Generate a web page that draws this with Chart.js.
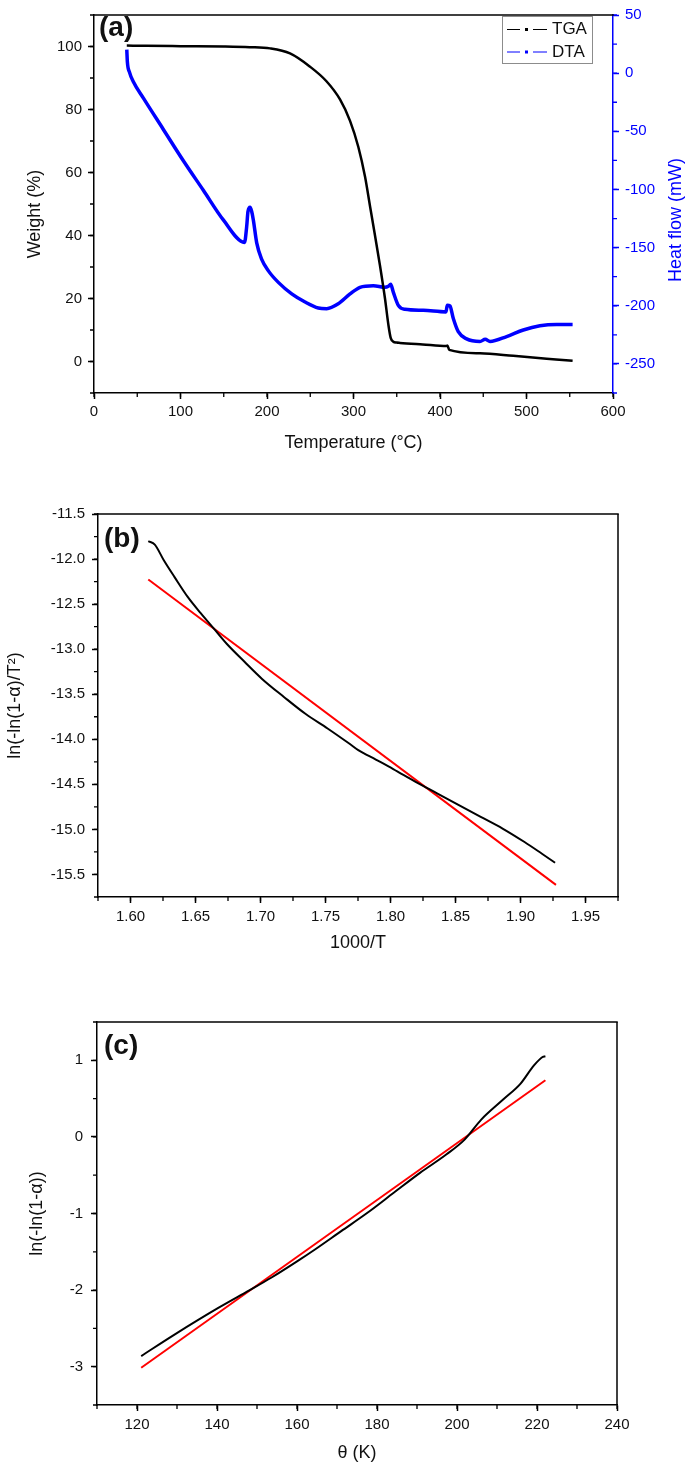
<!DOCTYPE html>
<html><head><meta charset="utf-8">
<script src="https://cdn.jsdelivr.net/npm/chart.js@4.4.1/dist/chart.umd.min.js"></script>
<style>
html,body{margin:0;padding:0;background:#fff;width:685px;height:1465px;overflow:hidden}
canvas{position:absolute;left:0}
</style></head><body>
<canvas id="ca" width="685" height="470" style="top:0px"></canvas>
<canvas id="cb" width="685" height="490" style="top:470px"></canvas>
<canvas id="cc" width="685" height="505" style="top:960px"></canvas>
<script>
// ---------- Panel (a): TGA / DTA ----------
const tgaT = [37.9, 60, 100, 150, 180, 203.5, 226.6, 249.7, 269, 284.4, 296, 305.6, 313.3, 319.1, 324.9, 330.6, 336.4, 340.3, 343, 346, 350, 353.7, 380, 407.7, 408.5, 410.7, 446.2, 484.7, 523.3, 553.3];
const tgaW = [100.3, 100.2, 100.1, 100.0, 99.8, 99.4, 97.8, 93.6, 88.9, 83.2, 76.4, 68.1, 58.7, 49.3, 39.9, 30.5, 20.0, 11.7, 7.5, 6.3, 6.0, 5.9, 5.4, 4.9, 5.1, 3.7, 2.6, 1.8, 0.9, 0.2];
const dtaT = [37.9, 38.6, 40.9, 45.5, 57.1, 80.2, 103.3, 126.4, 149.5, 174, 176.5, 178, 180.4, 182.3, 184.2, 188.1, 193.9, 201.6, 213.1, 228.6, 244, 259.3, 269, 282.4, 296, 307.5, 322.9, 336.4, 340.3, 343, 346, 351.8, 359.5, 380.7, 406.9, 408.4, 411.5, 415.4, 421.1, 430.8, 446.2, 452.3, 457.8, 477, 496.3, 515.5, 534.8, 553.3];
const dtaH = [20.3, 9.5, 1.1, -7.4, -21.5, -48.4, -75.3, -100.7, -126.2, -145.5, -132, -119, -115.4, -119, -126.2, -145.9, -160.1, -170, -179.9, -189.8, -196.8, -201.9, -202.5, -198.3, -189.8, -184.1, -182.7, -184.1, -183.2, -181.5, -188.3, -199.6, -203, -203.9, -205.3, -199.6, -200.2, -211, -222.3, -228.5, -230.7, -228.8, -230.7, -226.5, -220.8, -217.2, -216.1, -216.1];
const aTicksX = [0, 100, 200, 300, 400, 500, 600];
const aTicksW = [0, 20, 40, 60, 80, 100];
const aTicksH = [-250, -200, -150, -100, -50, 0, 50];

// ---------- Panel (b) ----------
const bX = [1.6137, 1.6187, 1.6255, 1.6339, 1.644, 1.654, 1.664, 1.674, 1.6877, 1.7012, 1.718, 1.7348, 1.7516, 1.7685, 1.7752, 1.7887, 1.8021, 1.819, 1.8358, 1.8526, 1.8694, 1.8862, 1.9031, 1.9165, 1.9266];
const bY = [-11.80, -11.84, -12.01, -12.20, -12.42, -12.60, -12.77, -12.94, -13.14, -13.33, -13.53, -13.72, -13.88, -14.05, -14.12, -14.225, -14.33, -14.47, -14.60, -14.73, -14.86, -14.99, -15.14, -15.27, -15.37];
const bFitX = [1.6137, 1.9273];
const bFitY = [-12.226, -15.615];
const bTicksX = [1.60, 1.65, 1.70, 1.75, 1.80, 1.85, 1.90, 1.95];
const bTicksY = [-15.5, -15.0, -14.5, -14.0, -13.5, -13.0, -12.5, -12.0, -11.5];

// ---------- Panel (c) ----------
const cX = [121.05, 129.47, 140.42, 148.07, 153.54, 160.11, 164.49, 171.05, 177.61, 184.18, 190.74, 197.31, 201.9, 206.06, 211.53, 215.9, 219.19, 221.38, 222.1];
const cY = [-2.861, -2.578, -2.230, -2.004, -1.839, -1.622, -1.470, -1.230, -0.991, -0.730, -0.470, -0.230, -0.035, 0.226, 0.487, 0.696, 0.930, 1.043, 1.052];
const cFitX = [121.05, 222.1];
const cFitY = [-3.013, 0.739];
const cTicksX = [120, 140, 160, 180, 200, 220, 240];
const cTicksY = [-3, -2, -1, 0, 1];

const FONT = "'Liberation Sans', Arial, Helvetica, sans-serif";
Chart.defaults.font.family = FONT;
Chart.defaults.color = '#111';

const pts = (xs, ys) => xs.map((x, i) => ({x: x, y: ys[i]}));

function makeScale(o) {
  const color = o.color || '#000';
  return {
    type: 'linear', position: o.pos, min: o.min, max: o.max,
    afterBuildTicks: s => { s.ticks = o.ticks.map(v => ({value: v})); },
    afterFit: s => { if (o.pos === 'bottom') s.height = o.size; else s.width = o.size; },
    ticks: { color: o.labelColor || '#111', font: {size: 15}, padding: o.labelPad,
             autoSkip: false, maxRotation: 0, minRotation: 0,
             callback: v => o.fmt ? o.fmt(v) : String(v) },
    grid: { display: true, drawOnChartArea: false, drawTicks: true, tickLength: 6, tickWidth: 1.5, tickColor: color },
    border: { display: true, color: color, width: 1.5 },
    title: o.title ? { display: true, text: o.title, color: '#111', font: {size: 18},
                      padding: o.pos === 'bottom' ? {bottom: o.titlePad, top: 0} : {top: o.titlePad, bottom: 0} }
                   : { display: false }
  };
}

function minorTicks(spec) {
  return { id: 'minorTicks', afterDraw(chart) {
    const ctx = chart.ctx;
    for (const id in spec) {
      const s = chart.scales[id]; const m = spec[id];
      const n = Math.round((s.max - s.min) / m.step);
      ctx.save(); ctx.strokeStyle = m.color; ctx.lineWidth = 1.3; ctx.beginPath();
      for (let i = 0; i <= n; i++) {
        const p = s.getPixelForValue(s.min + i * m.step);
        if (s.position === 'bottom') { ctx.moveTo(p, s.top); ctx.lineTo(p, s.top + 4); }
        else if (s.position === 'left') { ctx.moveTo(s.right - 4, p); ctx.lineTo(s.right, p); }
        else { ctx.moveTo(s.left, p); ctx.lineTo(s.left + 4, p); }
      }
      ctx.stroke(); ctx.restore();
    }
  }};
}

function frame(topColor, rightColor) {
  return { id: 'frame', afterDraw(chart) {
    const {ctx, chartArea: a} = chart;
    ctx.save(); ctx.lineWidth = 1.5;
    if (topColor) { ctx.strokeStyle = topColor; ctx.beginPath(); ctx.moveTo(a.left, a.top); ctx.lineTo(a.right + 0.75, a.top); ctx.stroke(); }
    if (rightColor) { ctx.strokeStyle = rightColor; ctx.beginPath(); ctx.moveTo(a.right, a.top); ctx.lineTo(a.right, a.bottom); ctx.stroke(); }
    ctx.restore();
  }};
}

function panelLabel(text, dx, dy) {
  return { id: 'panelLabel', afterDraw(chart) {
    const {ctx, chartArea: a} = chart;
    ctx.save(); ctx.fillStyle = '#111'; ctx.font = 'bold 28px ' + FONT;
    ctx.textBaseline = 'middle'; ctx.textAlign = 'left';
    ctx.fillText(text, a.left + dx, a.top + dy);
    ctx.restore();
  }};
}

const legendA = { id: 'legendA', afterDraw(chart) {
  const ctx = chart.ctx; ctx.save();
  ctx.strokeStyle = '#8c8c8c'; ctx.lineWidth = 1; ctx.strokeRect(502.5, 16.5, 90, 47);
  chart.data.datasets.forEach((ds, i) => {
    const y = 29.5 + i * 22.5;
    ctx.strokeStyle = ds.borderColor; ctx.lineWidth = 1;
    ctx.beginPath(); ctx.moveTo(507, y); ctx.lineTo(520, y); ctx.moveTo(533, y); ctx.lineTo(547, y); ctx.stroke();
    ctx.fillStyle = ds.borderColor; ctx.fillRect(525, y - 1.5, 3, 3);
    ctx.fillStyle = '#111'; ctx.font = '17px ' + FONT; ctx.textBaseline = 'middle'; ctx.textAlign = 'left';
    ctx.fillText(ds.label, 552, y);
  });
  ctx.restore();
}};

const sideTitlesA = { id: 'sideTitlesA', afterDraw(chart) {
  const ctx = chart.ctx; ctx.save();
  ctx.font = '18px ' + FONT; ctx.textAlign = 'center'; ctx.textBaseline = 'middle';
  ctx.fillStyle = '#111';
  ctx.translate(35, 214); ctx.rotate(-Math.PI / 2); ctx.fillText('Weight (%)', 0, 0);
  ctx.setTransform(1, 0, 0, 1, 0, 0);
  ctx.fillStyle = '#0000ff';
  ctx.translate(676, 220); ctx.rotate(-Math.PI / 2); ctx.fillText('Heat flow (mW)', 0, 0);
  ctx.restore();
}};

const common = { responsive: false, animation: false, devicePixelRatio: 1,
  plugins: { legend: { display: false }, tooltip: { enabled: false } },
  elements: { point: { radius: 0 } } };

// ---- Chart (a)
new Chart(document.getElementById('ca'), {
  type: 'line',
  data: { datasets: [
    { label: 'TGA', data: pts(tgaT, tgaW), yAxisID: 'y', borderColor: '#000', borderWidth: 2.5, cubicInterpolationMode: 'monotone', pointRadius: 0 },
    { label: 'DTA', data: pts(dtaT, dtaH), yAxisID: 'y1', borderColor: '#0000ff', borderWidth: 3.5, cubicInterpolationMode: 'monotone', pointRadius: 0 }
  ]},
  options: Object.assign({}, common, {
    layout: { padding: { top: 9, left: 0, right: 0, bottom: 0 } },
    scales: {
      x: makeScale({pos: 'bottom', min: 0, max: 600, ticks: aTicksX, size: 77, labelPad: 4, title: 'Temperature (°C)', titlePad: 16.2}),
      y: makeScale({pos: 'left', min: -10, max: 110, ticks: aTicksW, size: 94, labelPad: 6}),
      y1: makeScale({pos: 'right', min: -275, max: 50, ticks: aTicksH, size: 72, labelPad: 6, color: '#0000ff', labelColor: '#0000ff'})
    }
  }),
  plugins: [minorTicks({x: {step: 50, color: '#000'}, y: {step: 10, color: '#000'}, y1: {step: 25, color: '#0000ff'}}),
            frame('#000', null), panelLabel('(a)', 5, 13), legendA, sideTitlesA]
});

// ---- Chart (b)
new Chart(document.getElementById('cb'), {
  type: 'line',
  data: { datasets: [
    { label: 'data', data: pts(bX, bY), borderColor: '#000', borderWidth: 2, cubicInterpolationMode: 'monotone', pointRadius: 0 },
    { label: 'fit', data: pts(bFitX, bFitY), borderColor: '#ff0000', borderWidth: 2, pointRadius: 0 }
  ]},
  options: Object.assign({}, common, {
    layout: { padding: { top: 44, left: 0, right: 67, bottom: 0 } },
    scales: {
      x: makeScale({pos: 'bottom', min: 1.575, max: 1.975, ticks: bTicksX, size: 63, labelPad: 5, fmt: v => v.toFixed(2), title: '1000/T', titlePad: 6.2}),
      y: makeScale({pos: 'left', min: -15.75, max: -11.5, ticks: bTicksY, size: 98, labelPad: 7, fmt: v => v.toFixed(1), title: 'ln(-ln(1-α)/T²)', titlePad: 4.5})
    }
  }),
  plugins: [minorTicks({x: {step: 0.025, color: '#000'}, y: {step: 0.25, color: '#000'}}),
            frame('#000', '#000'), panelLabel('(b)', 6, 25)]
});

// ---- Chart (c)
new Chart(document.getElementById('cc'), {
  type: 'line',
  data: { datasets: [
    { label: 'data', data: pts(cX, cY), borderColor: '#000', borderWidth: 2, cubicInterpolationMode: 'monotone', pointRadius: 0 },
    { label: 'fit', data: pts(cFitX, cFitY), borderColor: '#ff0000', borderWidth: 2, pointRadius: 0 }
  ]},
  options: Object.assign({}, common, {
    layout: { padding: { top: 62, left: 0, right: 68, bottom: 0 } },
    scales: {
      x: makeScale({pos: 'bottom', min: 110, max: 240, ticks: cTicksX, size: 60, labelPad: 5, title: 'θ (K)', titlePad: 1.2}),
      y: makeScale({pos: 'left', min: -3.5, max: 1.5, ticks: cTicksY, size: 97, labelPad: 8, title: 'ln(-ln(1-α))', titlePad: 26.2})
    }
  }),
  plugins: [minorTicks({x: {step: 10, color: '#000'}, y: {step: 0.5, color: '#000'}}),
            frame('#000', '#000'), panelLabel('(c)', 7, 24)]
});
</script>
</body></html>
